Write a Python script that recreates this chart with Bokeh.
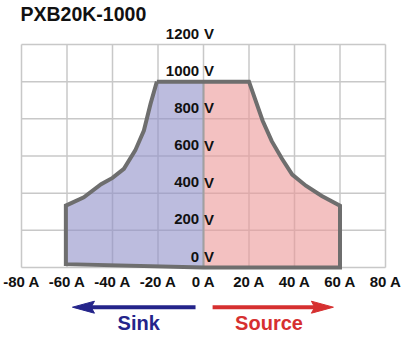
from bokeh.plotting import figure
from bokeh.models import Range1d, Label
from bokeh.embed import file_html
from bokeh.resources import INLINE
from bokeh.core.properties import value

title = "PXB20K-1000"
x_ticks = [-80, -60, -40, -20, 0, 20, 40, 60, 80]
y_ticks = [0, 200, 400, 600, 800, 1000, 1200]

# Source (positive current) boundary
src_a = [0, 20, 26, 30, 34.5, 39, 45, 52, 60, 60, 0]
src_v = [1000, 1000, 790, 680, 585, 500, 440, 385, 333, 0, 0]
# Sink (negative current) boundary
snk_a = [0, -20.5, -23.3, -26.2, -30, -35, -40, -45, -52.6, -60.5, -60.5, 0]
snk_v = [1000, 1000, 880, 737, 630, 531, 482, 448, 378, 333, 18, 0]

# plot frame geometry (pixels)
W, H = 403, 338
px_l, px_r, px_t, px_b = 21, 385, 44, 267
sx = (px_r - px_l) / 160.0
sy = (px_b - px_t) / 1200.0

p = figure(width=W, height=H, output_backend="svg", toolbar_location=None,
           x_range=Range1d(-80 - px_l / sx, 80 + (W - px_r) / sx),
           y_range=Range1d(-(H - px_b) / sy, 1200 + px_t / sy),
           min_border=0)
p.axis.visible = False
p.grid.visible = False
p.outline_line_color = None
p.background_fill_color = "white"

# grid
p.segment(x0=x_ticks, x1=x_ticks, y0=[0] * len(x_ticks), y1=[1200] * len(x_ticks),
          line_color="#c8c8c8", line_width=1.5)
p.segment(x0=[-80] * len(y_ticks), x1=[80] * len(y_ticks), y0=y_ticks, y1=y_ticks,
          line_color="#c8c8c8", line_width=1.5)

# filled regions
p.patch(snk_a, snk_v, fill_color="#8f8fc8", fill_alpha=0.6, line_color=None)
p.patch(src_a, src_v, fill_color="#eb9898", fill_alpha=0.6, line_color=None)
p.segment(x0=[0], x1=[0], y0=[0], y1=[1000], line_color="#a0a0a0", line_width=2)

# outline
outline_a = snk_a[1:] + src_a[:-1][::-1]
outline_v = snk_v[1:] + src_v[:-1][::-1]
p.line(outline_a + [snk_a[1]], outline_v + [snk_v[1]], line_color="#6e6e6e",
       line_width=4, line_join="miter")

font = value("Liberation Sans")
# y tick labels
p.text(x=[-1.9] * len(y_ticks), y=y_ticks, text=[str(v) for v in y_ticks],
       text_font=font, text_font_style="bold", text_font_size="15px",
       text_align="right", text_baseline="alphabetic", y_offset=-11, text_color="#111111")
p.text(x=[0.2] * len(y_ticks), y=y_ticks, text=["V"] * len(y_ticks),
       text_font=font, text_font_style="bold", text_font_size="15px",
       text_align="left", text_baseline="alphabetic", y_offset=-11, text_color="#111111")
# x tick labels
p.text(x=x_ticks, y=[0] * len(x_ticks), text=[f"{v} A" for v in x_ticks],
       text_font=font, text_font_style="bold", text_font_size="15px",
       text_align="center", text_baseline="alphabetic", y_offset=14, text_color="#111111")

# arrows
ay = -(306.7 - px_b) / sy
blue, red = "#24248a", "#d63030"
head_len, head_half = 22 / sx, 6 / sy
p.segment(x0=[-3.5], x1=[-57.6 + head_len * 0.8], y0=[ay], y1=[ay], line_color=blue, line_width=4)
p.patch([-57.6, -57.6 + head_len, -57.6 + head_len * 0.85, -57.6 + head_len],
        [ay, ay + head_half, ay, ay - head_half], fill_color=blue, line_color=blue)
p.segment(x0=[4.0], x1=[57.1 - head_len * 0.8], y0=[ay], y1=[ay], line_color=red, line_width=4)
p.patch([57.1, 57.1 - head_len, 57.1 - head_len * 0.85, 57.1 - head_len],
        [ay, ay + head_half, ay, ay - head_half], fill_color=red, line_color=red)

p.text(x=[-28.5], y=[ay], text=["Sink"], text_font=font, text_font_style="bold",
       text_font_size="20px", text_align="center", text_baseline="alphabetic",
       y_offset=15.5, text_color=blue)
p.text(x=[28.8], y=[ay], text=["Source"], text_font=font, text_font_style="bold",
       text_font_size="20px", text_align="center", text_baseline="alphabetic",
       y_offset=15.5, text_color=red)

p.add_layout(Label(x=20, y=H - 13, x_units="screen", y_units="screen", text=title,
                   text_font="Liberation Sans", text_font_style="bold",
                   text_font_size="19.5px", text_color="#111111", text_baseline="alphabetic"))

open("out.html", "w").write(file_html(p, INLINE))
